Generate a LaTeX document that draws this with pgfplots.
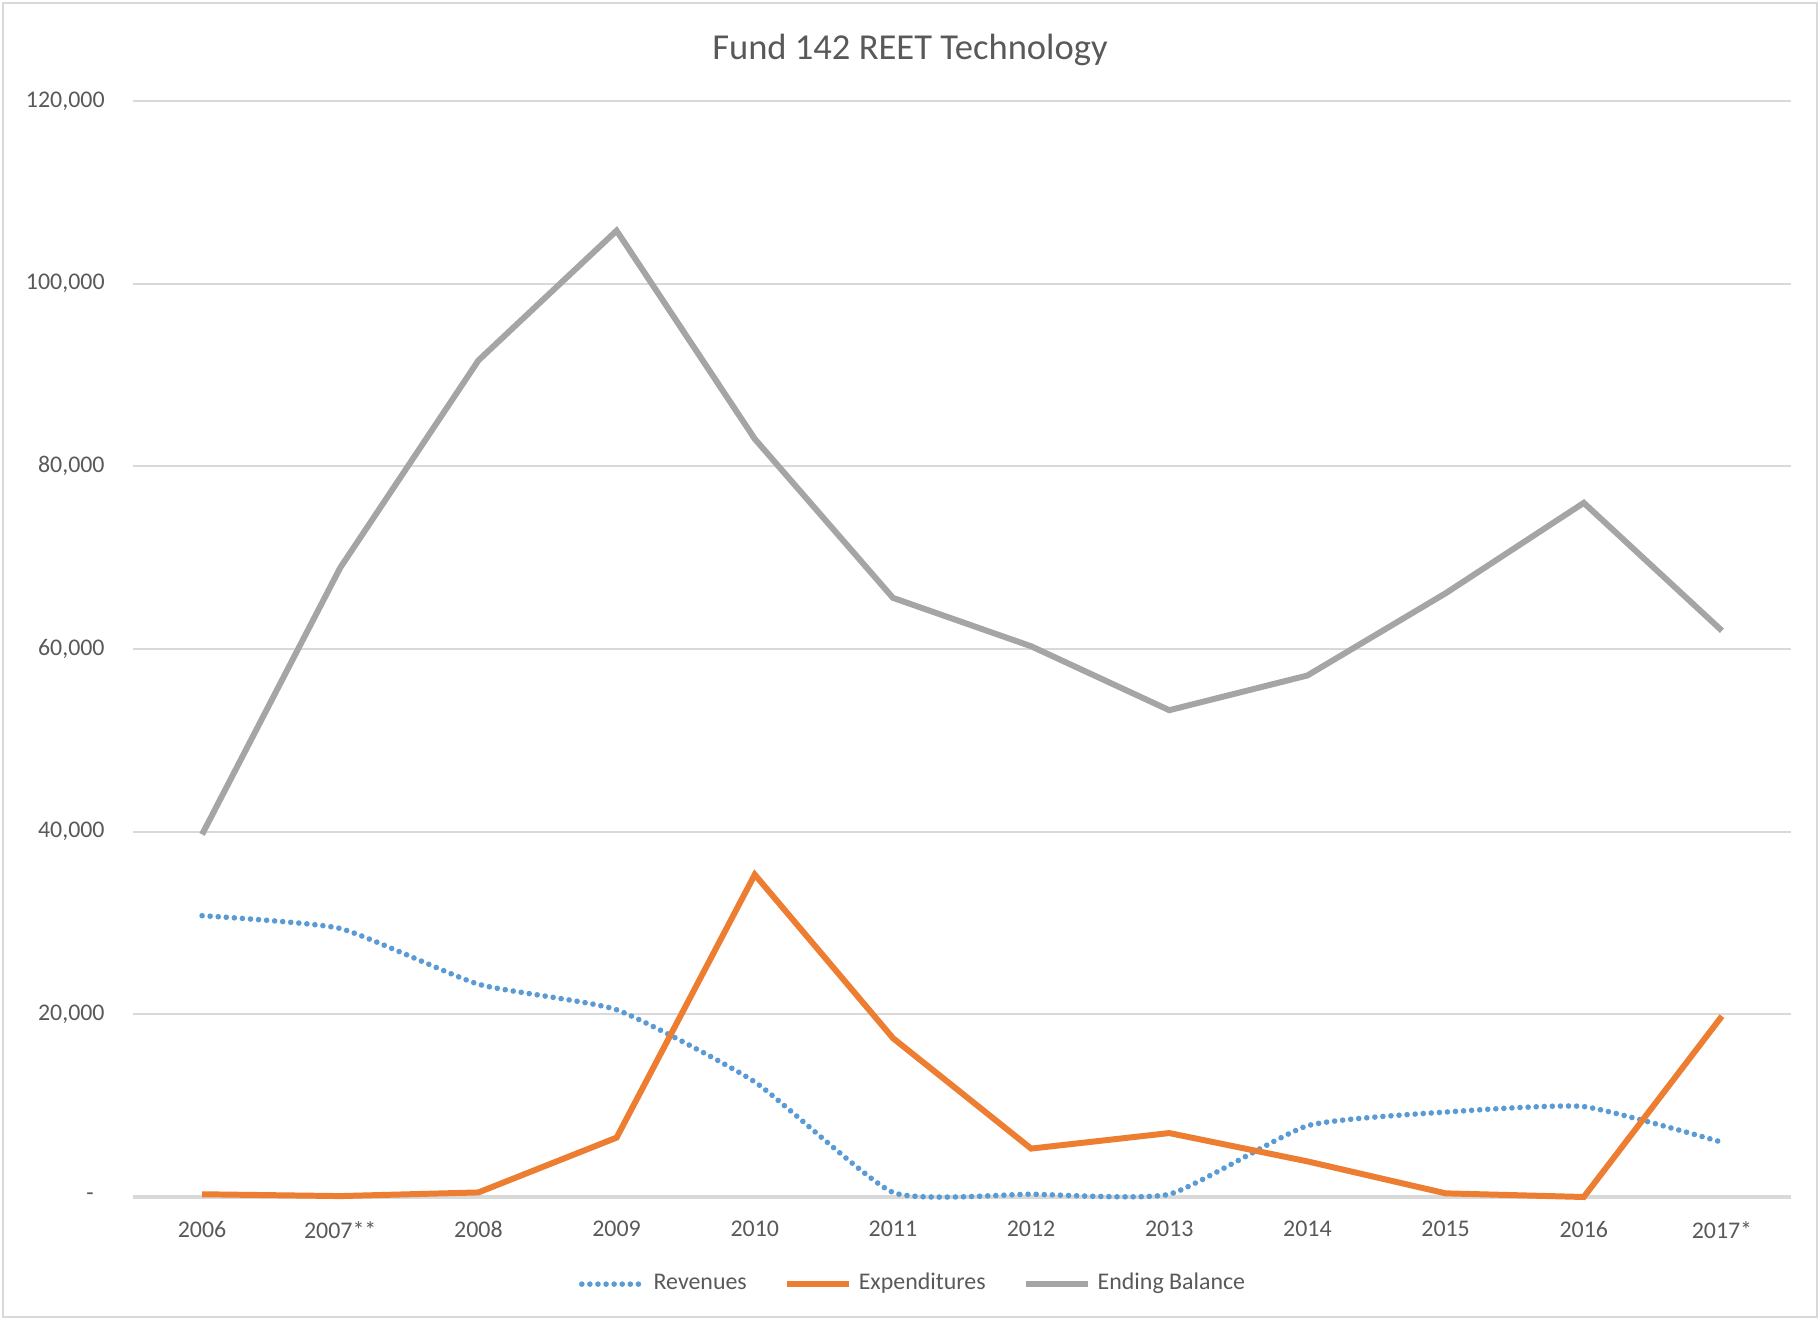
\documentclass[border=0pt]{standalone}
\usepackage{fontspec}
\setmainfont{Carlito}
\usepackage{pgfplots}
\pgfplotsset{compat=1.18}
\definecolor{xlblue}{HTML}{5B9BD5}
\definecolor{xlorange}{HTML}{ED7D31}
\definecolor{xlgray}{HTML}{A5A5A5}
\definecolor{txtgray}{HTML}{595959}
\definecolor{gridgray}{HTML}{D9D9D9}

\begin{document}
\begin{tikzpicture}[x=1mm,y=1mm]
\useasboundingbox (0,0) rectangle (182,132);
\draw[gridgray,line width=0.6pt] (0.3,0.3) rectangle (181.7,131.7);
\node[font=\fontsize{10.4}{12}\selectfont,text=txtgray] at (91,127.0) {Fund 142 REET Technology};
\begin{axis}[
  at={(13.3mm,12.3mm)},anchor=south west,
  scale only axis,width=165.8mm,height=109.6mm,
  xmin=-0.5,xmax=11.5,ymin=0,ymax=120000,
  clip=false,
  scaled y ticks=false,
  xtick={0,...,11},
  xticklabels={2006,2007**,2008,2009,2010,2011,2012,2013,2014,2015,2016,2017*},
  ytick={0,20000,40000,60000,80000,100000,120000},
  yticklabels={{-\hspace*{1.1mm}},{20,000},{40,000},{60,000},{80,000},{100,000},{120,000}},
  tick style={draw=none},
  ymajorgrids=true,
  grid style={gridgray,line width=0.6pt},
  axis x line*=bottom,axis y line*=left,
  x axis line style={gridgray,line width=0.9pt,-},
  y axis line style={draw=none},
  ticklabel style={font=\fontsize{6.8}{8}\selectfont,text=txtgray},
  yticklabel style={xshift=-1.6mm},
  xticklabel style={yshift=-1.2mm},
  legend style={at={(0.472,-0.0795)},anchor=center,draw=none,fill=none,
    legend columns=3,font=\fontsize{6.8}{8}\selectfont,text=txtgray,
    /tikz/every even column/.append style={column sep=3mm}},
  legend cell align=left,
  legend image code/.code={\draw[#1] (0mm,0mm) -- (6.2mm,0mm);},
]
\addplot[xlblue,line width=1.6pt,line cap=round,dash pattern=on 0pt off 2.3pt,smooth,tension=0.3] coordinates {
 (0,30800) (1,29400) (2,23300) (3,20500) (4,12600) (5,500)
 (6,300) (7,300) (8,7800) (9,9300) (10,9900) (11,6000)};
\addlegendentry{Revenues}
\addplot[xlorange,line width=1.7pt] coordinates {
 (0,300) (1,100) (2,500) (3,6500) (4,35300) (5,17400)
 (6,5300) (7,7000) (8,3900) (9,400) (10,0) (11,19800)};
\addlegendentry{Expenditures}
\addplot[xlgray,line width=1.7pt] coordinates {
 (0,39700) (1,68900) (2,91600) (3,105800) (4,83000) (5,65600)
 (6,60300) (7,53300) (8,57100) (9,66100) (10,76000) (11,62000)};
\addlegendentry{Ending Balance}
\end{axis}
\end{tikzpicture}
\end{document}
